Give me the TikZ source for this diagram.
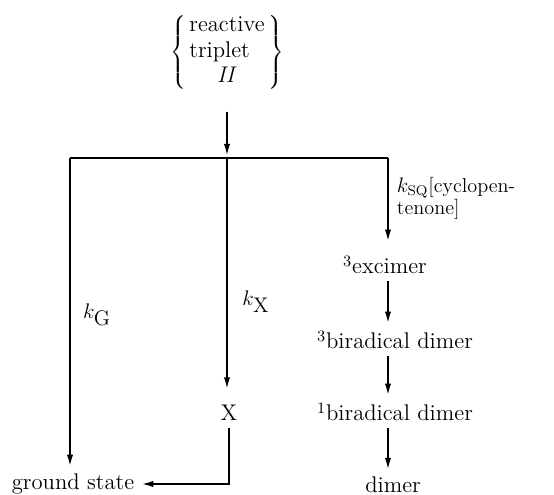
\documentclass[tikz,border=0pt]{standalone}
\usetikzlibrary{arrows.meta}

\begin{document}
\begin{tikzpicture}[line width=1.2pt, >={Latex[length=7pt,width=3.6pt]},
  font=\fontsize{12.9}{14.7}\selectfont]
  \useasboundingbox (0,0) rectangle (11.08,9.9);

  % 反应三重态
  \node (trip) at (4.54,8.86) {$\left\{\,\begin{tabular}{@{}l@{}}reactive\\triplet\\\multicolumn{1}{c}{\textit{II}}\end{tabular}\,\right\}$};

  % 分支点
  \coordinate (jn) at (4.54,6.74);
  \coordinate (lc) at (1.40,6.74);
  \coordinate (rc) at (7.76,6.74);

  % 各产物
  \node (gs) at (1.46,0.22) {ground state};
  \node (X) at (4.58,1.64) {X};
  \node (exc) at (7.70,4.60) {\textsuperscript{3}excimer};
  \node (bd3) at (7.90,3.10) {\textsuperscript{3}biradical dimer};
  \node (bd1) at (7.90,1.66) {\textsuperscript{1}biradical dimer};
  \node (dim) at (7.86,0.20) {dimer};

  % 速率常数
  \node (kG) at (1.94,3.60) {$k_{\textstyle\mathrm{G}}$};
  \node (kX) at (5.12,3.86) {$k_{\textstyle\mathrm{X}}$};
  \node[anchor=north west, align=left, font=\fontsize{11.5}{11.8}\selectfont] (kSQ) at (7.80,6.50)
    {$k_{\mathrm{SQ}}$[cyclopen-\\tenone]};

  % 箭头
  \draw[->, shorten <=8pt, shorten >=1pt] (trip.south) -- (jn);
  \draw (lc) -- (rc);
  \draw[->] (lc) -- (gs.north -| lc);
  \draw[->, shorten >=5pt] (jn) -- (jn |- X.north);
  \draw[->, shorten >=4pt] (rc) -- (exc.north -| rc);
  \draw[->] (exc.south -| rc) -- (bd3.north -| rc);
  \draw[->] (bd3.south -| rc) -- (bd1.north -| rc);
  \draw[->] (bd1.south -| rc) -- (dim.north -| rc);
  \draw[->] (X.south) -- (X.south |- gs.east) -- (gs.east);
\end{tikzpicture}
\end{document}
